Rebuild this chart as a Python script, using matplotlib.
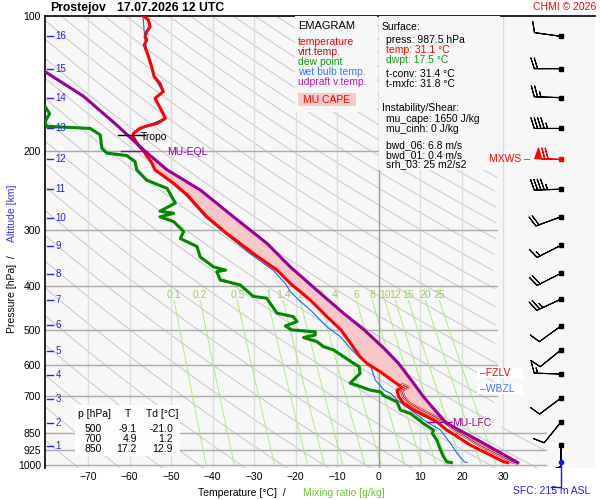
import numpy as np
import matplotlib
matplotlib.use("Agg")
import matplotlib.pyplot as plt
import matplotlib.patheffects as pe
from matplotlib.patches import Rectangle
from matplotlib.ticker import FixedLocator, NullLocator

plt.rcParams['font.family'] = ['Liberation Sans', 'DejaVu Sans']

# ---- sounding data (hPa / degC) ----
t_pres = [987.5, 983, 950, 902, 853, 836, 801, 754, 729, 704, 681, 671, 663.5, 620, 594, 574,
          540, 500, 467, 429, 411, 394, 368, 338, 305, 280, 250, 236, 220, 210.5, 205, 199.6,
          193.8, 188.9, 185, 182.5, 177.8, 175.8, 173.4, 169, 159.2, 152.5, 147.4, 141.3,
          136.5, 129.7, 122.1, 116, 113.1, 111.2, 108.4, 105.6, 102, 100]
t_temp = [31.1, 30.1, 26.9, 22.0, 18.0, 16.4, 14.0, 8.4, 6.0, 4.8, 4.4, 6.0, 4.8, 0.4, -2.8, -4.5,
          -6.5, -9.1, -12.5, -16.5, -18.9, -21.3, -24.5, -30.2, -36.6, -41.4, -46.2, -49.4, -53.9,
          -54.9, -55.9, -56.7, -57.9, -58.7, -59.2, -59.1, -57.5, -55.9, -53.4, -51.4, -52.8,
          -53.9, -51.9, -52.7, -54.1, -54.7, -55.6, -56.5, -55.9, -56.3, -55.9, -55.1, -55.5, -56.7]

# environmental virtual temperature (lowest part, where it separates from T)
tv_pres = [987.5, 983, 950, 902, 853, 836, 801, 754, 729, 704, 681, 671, 663.5]
tv_temp = [33.0, 32.2, 29.0, 24.2, 20.0, 18.4, 16.0, 10.2, 7.4, 6.0, 5.5, 7.0, 5.8]

td_pres = [987.5, 983, 958, 926, 880, 850, 836, 808, 767, 754, 723, 700, 687, 681, 664, 657,
           625, 604, 594, 574, 554, 545, 531, 520, 513, 505, 500, 490, 479, 467, 459, 425, 421,
           397, 387, 371, 368, 362, 344, 326, 313, 302, 287, 280, 275, 272, 261, 242, 232, 220,
           211, 204.5, 202, 197, 184, 178, 176, 172, 165, 159, 150]
td_temp = [17.5, 16.4, 15.6, 14.9, 14.0, 12.9, 13.2, 10.8, 7.6, 5.2, 4.4, 1.2, 0.4, -2.0, -5.3, -6.9,
           -4.5, -4.7, -6.0, -8.4, -10.9, -13.3, -14.9, -18.1, -15.3, -15.3, -21.0, -22.5, -19.7,
           -20.6, -24.5, -27.0, -30.2, -33.4, -38.2, -39.0, -36.9, -39.8, -43.0, -43.8, -47.8,
           -47.0, -49.4, -52.7, -49.4, -52.7, -49.0, -51.0, -55.9, -58.3, -58.7, -60.7, -65.5,
           -66.7, -67.1, -69.5, -80.0, -80.4, -79.3, -80.4, -86.0]

tw_pres = [987.5, 983, 942, 895, 836, 794, 754, 717, 692, 681, 647, 604, 574, 550, 518, 500, 492,
           451, 432, 411, 394, 368, 338, 305, 280, 250, 236, 220, 210.5, 199.6, 188.9, 182.5,
           175.8, 169, 159.2, 152.5, 147.4, 136.5, 122.1, 111.2, 100]
tw_temp = [21.3, 20.6, 18.9, 17.3, 14.9, 10.9, 7.7, 4.5, 2.9, 1.3, -0.8, -1.9, -4.8, -6.8, -9.2,
           -11.5, -12.5, -16.5, -18.9, -21.3, -22.5, -25.5, -31.0, -37.0, -41.8, -46.6, -49.7,
           -54.1, -55.0, -56.8, -58.8, -59.2, -56.0, -51.5, -52.9, -54.0, -52.0, -54.2, -55.7,
           -56.4, -56.8]

parcel_pres = [987.5, 950, 900, 850, 805, 750, 705, 650, 594, 550, 500, 459, 408, 362, 321,
               280, 244, 220, 200, 175, 151, 133, 126]
parcel_temp = [33.5, 30.3, 25.8, 20.9, 16.2, 13.3, 10.8, 8.0, 4.8, 1.3, -3.5, -8.5, -14.9, -21.3,
               -26.9, -35.0, -43.0, -51.0, -56.3, -63.1, -71.1, -80.4, -84.0]
lfc_pres, eql_pres, tropo_pres = 805, 200, 184

# altitude marks (km) and their pressure
alt_km = [16, 15, 14, 13, 12, 11, 10, 9, 8, 7, 6, 5, 4, 3, 2, 1]
alt_pres = [111, 131, 152, 178, 208, 243, 282, 325, 376, 429, 488, 557, 630, 713, 806, 907]

# wind barbs (direction deg, speed kt)
wind_pres = [111, 131, 152, 178, 243, 280, 324, 374, 427, 490, 554, 627, 709, 802, 902]
wind_dir = [278, 270, 272, 270, 268, 250, 243, 243, 245, 234, 231, 272, 233, 219, 180]
wind_spd = [10, 20, 25, 45, 45, 20, 15, 20, 25, 10, 10, 15, 10, 10, 5]
mxws_pres, mxws_dir, mxws_spd = 208, 272, 70
sfc_pres = 985

mix_ratio = [0.1, 0.2, 0.5, 1, 1.4, 2, 3, 4, 6, 8, 10, 12, 15, 20, 25]
table_p = [500, 700, 850]
table_t = [-9.1, 4.9, 17.2]
table_td = [-21.0, 1.2, 12.9]

info_lines = [("Surface:", 'k', 382, 27), ("press: 987.5 hPa", 'k', 386, 40),
              ("temp: 31.1 °C", 'red', 386, 50), ("dwpt: 17.5 °C", '#119911', 386, 60),
              ("t-conv: 31.4 °C", 'k', 386, 74), ("t-mxfc: 31.8 °C", 'k', 386, 84),
              ("Instability/Shear:", 'k', 382, 108), ("mu_cape: 1650 J/kg", 'k', 386, 119),
              ("mu_cinh: 0 J/kg", 'k', 386, 129), ("bwd_06: 6.8 m/s", 'k', 386, 145),
              ("bwd_01: 0.4 m/s", 'k', 386, 155), ("srh_03: 25 m2/s2", 'k', 386, 164)]
legend_lines = [("temperature", 'red', 42), ("virt.temp.", '#a01818', 52),
                ("dew point", '#119911', 62), ("wet bulb temp.", '#3377ff', 72),
                ("udpraft v.temp.", '#b01cb0', 82)]

FS = 7.5
BG = '#f7f7f7'


def fx(x):
    return x / 600.0


def fy(y):
    return 1 - y / 500.0


def fig_box(x0, y0, x1, y1, color, z):
    fig.patches.append(Rectangle((fx(x0), fy(y1)), (x1 - x0) / 600, (y1 - y0) / 500,
                                 transform=fig.transFigure, facecolor=color,
                                 edgecolor='none', zorder=z))


fig = plt.figure(figsize=(6, 5), dpi=100)
ax = fig.add_axes([fx(45), fy(468), 550 / 600, 452 / 500])
ax.set_facecolor(BG)
ax.set_yscale('log')
ax.set_xlim(-80.4, 52.1)
ax.set_ylim(1015, 100)

# dry adiabats
pp = np.exp(np.linspace(np.log(100), np.log(1015), 200))
for theta in np.arange(200, 560, 10):
    tt = theta * (pp / 1000.0) ** 0.286 - 273.15
    lim = np.where(pp < 820, 28.5, 40.0)
    tt = np.where(tt > lim, np.nan, tt)
    ax.plot(tt, pp, color='#c8c8c8', lw=0.7, zorder=1)

# grid
for t in range(-70, 40, 10):
    if t != 0:
        ax.plot([t, t], [100, 1015], color='#dcdcdc', lw=1, zorder=1.5)
ax.plot([0, 0], [100, 1015], color='#999999', lw=1, zorder=2.5)
for p in [200, 300, 400, 500, 600, 700]:
    ax.plot([-80.4, 28.5], [p, p], color='#aaaaaa', lw=1, zorder=1.6)
for p in [850, 925, 1000]:
    ax.plot([-80.4, 40.4], [p, p], color='#aaaaaa', lw=1, zorder=1.6)

# mixing ratio lines
pm = np.linspace(430, 1000, 50)
for w in mix_ratio:
    e = w * pm / (622.0 + w)
    lg = np.log(e / 6.112)
    td = 243.5 * lg / (17.67 - lg)
    ax.plot(td, pm, color='#a6ee7c', lw=0.7, zorder=1.7)
    ax.text(td[0], 418, ('%g' % w), color='#93d44e', fontsize=FS, ha='center', va='center', zorder=3)

# CAPE area
cape_pt = [(t, p) for t, p in zip(parcel_temp, parcel_pres) if eql_pres <= p <= lfc_pres]
cape_env = [(t, p) for t, p in zip(t_temp, t_pres) if eql_pres <= p <= lfc_pres]
poly = cape_pt + cape_env[::-1]
ax.fill([a for a, b in poly], [b for a, b in poly], color='#f8c8c8', lw=0, zorder=3)

# profiles
ax.plot(tw_temp, tw_pres, color='#1a66ff', lw=0.8, zorder=4)
ax.plot(td_temp, td_pres, color='#008800', lw=2.2, zorder=5)
ax.plot(t_temp, t_pres, color='#ff0000', lw=2.2, zorder=6)
ax.plot(tv_temp, tv_pres, color='#800000', lw=0.6, zorder=6.5,
        path_effects=[pe.Stroke(linewidth=2.4, foreground='red'),
                      pe.Stroke(linewidth=1.5, foreground='white'), pe.Normal()])
ax.plot(parcel_temp, parcel_pres, color='#990099', lw=2.2, zorder=7)

# level markers
ax.plot([-62.2, -55.8], [eql_pres, eql_pres], color='#990099', lw=1, zorder=7)
ax.text(-50.9, 201, 'MU-EQL', color='#990099', fontsize=FS, va='center', zorder=8)
ax.plot([-62.8, -56.3], [tropo_pres, tropo_pres], color='k', lw=1, zorder=8)
ax.text(-57.2, 186, 'Tropo', color='k', fontsize=FS, va='center', zorder=8)
ax.plot([11.7, 17.5], [lfc_pres - 2, lfc_pres - 2], color='#990099', lw=1, zorder=7)
ax.text(17.8, 806, 'MU-LFC', color='#990099', fontsize=FS, va='center', zorder=8)

# altitude labels
for km, p in zip(alt_km, alt_pres):
    ax.plot([-79.8, -78.4], [p, p], color='#2222ee', lw=1, zorder=8)
    ax.text(-77.8, p, str(km), color='#2222ee', fontsize=7, va='center', zorder=8)

# wind barbs
BL = 6.2
wx = np.full(len(wind_pres), 43.9)
wr = np.radians(wind_dir)
u = -np.array(wind_spd) * np.sin(wr)
v = -np.array(wind_spd) * np.cos(wr)
ax.barbs(wx, wind_pres, u, v, length=BL, linewidth=0.8, color='k', zorder=8)
ax.plot(wx, wind_pres, 's', color='k', ms=2.5, zorder=9)
mr = np.radians(mxws_dir)
ax.barbs([43.9], [mxws_pres], [-mxws_spd * np.sin(mr)], [-mxws_spd * np.cos(mr)],
         length=BL, linewidth=0.9, color='red', zorder=8)
ax.plot([43.9], [mxws_pres], 's', color='red', ms=2.5, zorder=9)
ax.plot([43.9], [sfc_pres], 'o', color='#1111ee', ms=3, zorder=9)
ax.plot([43.9, 43.9, 41.4], [sfc_pres, 1119, 1119], color='#1111ee', lw=1, zorder=9, clip_on=False)

# axes style
ax.yaxis.set_major_locator(FixedLocator([100, 200, 300, 400, 500, 600, 700, 850, 925, 1000]))
ax.yaxis.set_minor_locator(NullLocator())
ax.set_yticklabels(['100', '200', '300', '400', '500', '600', '700', '850', '925', '1000'])
ax.set_xticks(range(-70, 40, 10))
ax.tick_params(length=0, labelsize=FS, pad=3)
for s in ['right', 'bottom']:
    ax.spines[s].set_visible(False)
ax.spines['left'].set_linewidth(1.2)
ax.spines['top'].set_linewidth(1.2)

# boxes behind the legend / info texts
fig_box(295, 16, 377, 112, BG, 2)
fig_box(379, 16, 500, 170, BG, 2)
fig_box(75, 405, 180, 456, '#fdfdfd', 20)
fig_box(298, 93, 356, 106, '#f9caca', 20)
for yb in [368, 384]:
    fig_box(477, yb, 523, yb + 10, 'white', 20)

# texts
fig.text(fx(50), fy(8), 'Prostejov', fontsize=8.8, fontweight='bold', va='center')
fig.text(fx(117), fy(8), '17.07.2026 12 UTC', fontsize=8.8, fontweight='bold', va='center')
fig.text(fx(596), fy(7), 'CHMI © 2026', fontsize=FS, color='red', ha='right', va='center')
fig.text(fx(298), fy(26), 'EMAGRAM', fontsize=8, va='center', zorder=21)
for s, c, y in legend_lines:
    fig.text(fx(298), fy(y), s, fontsize=FS, color=c, va='center', zorder=21)
fig.text(fx(327), fy(100), 'MU CAPE', fontsize=FS, color='red', ha='center', va='center', zorder=21)
for s, c, x, y in info_lines:
    fig.text(fx(x), fy(y), s, fontsize=FS, color=c, va='center', zorder=21)
fig.text(fx(480), fy(373), '–FZLV', fontsize=FS, color='red', va='center', zorder=21)
fig.text(fx(480), fy(389), '–WBZL', fontsize=FS, color='#3377ff', va='center', zorder=21)
fig.text(fx(530), fy(159), 'MXWS –', fontsize=FS, color='red', ha='right', va='center', zorder=21)
fig.text(fx(513), fy(491), 'SFC: 215 m ASL', fontsize=FS, color='#2222ee', va='center')

fig.text(fx(78), fy(414), 'p [hPa]', fontsize=FS, va='center', zorder=21)
fig.text(fx(128), fy(414), 'T', fontsize=FS, va='center', ha='center', zorder=21)
fig.text(fx(146), fy(414), 'Td [°C]', fontsize=FS, va='center', zorder=21)
for i, (p, t, td) in enumerate(zip(table_p, table_t, table_td)):
    yy = 429 + 10 * i
    fig.text(fx(102), fy(yy), str(p), fontsize=FS, ha='right', va='center', zorder=21)
    fig.text(fx(137), fy(yy), '%.1f' % t, fontsize=FS, ha='right', va='center', zorder=21)
    fig.text(fx(173), fy(yy), '%.1f' % td, fontsize=FS, ha='right', va='center', zorder=21)

fig.text(fx(198), fy(493), 'Temperature [°C]  /', fontsize=FS, va='center')
fig.text(fx(303), fy(493), 'Mixing ratio [g/kg]', fontsize=FS, color='#66cc33', va='center')
fig.text(fx(12), fy(333), 'Pressure [hPa]  /', fontsize=FS, rotation=90, ha='center', va='bottom')
fig.text(fx(12), fy(242), 'Altitude [km]', fontsize=FS, rotation=90, ha='center', va='bottom',
         color='#3333ff')

fig.savefig('out.png', dpi=100, facecolor='white')
